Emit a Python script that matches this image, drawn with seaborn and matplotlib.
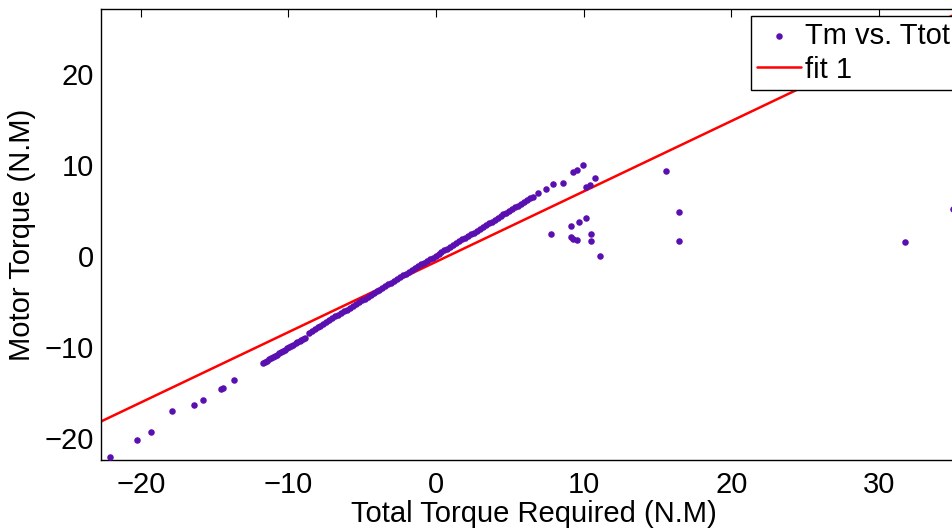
import numpy as np
import pandas as pd
import matplotlib
matplotlib.use("Agg")
import matplotlib.pyplot as plt
import seaborn as sns

# ---- data ----
# dense strip (lower part)
strip_a_x = [-11.72, -11.58, -11.45, -11.30, -11.17, -11.02, -10.90, -10.75, -10.62, -10.48, -10.35,
             -10.20, -10.07, -9.93, -9.80, -9.66, -9.52, -9.40, -9.25, -9.12, -8.98, -8.87]
strip_a_y = [-11.75, -11.62, -11.50, -11.36, -11.24, -11.10, -10.98, -10.83, -10.70, -10.55, -10.42,
             -10.28, -10.15, -10.02, -9.88, -9.75, -9.60, -9.48, -9.34, -9.20, -9.07, -8.97]
# dense strip (main part)
strip_b_x = [-8.63, -8.43, -8.23, -8.03, -7.83, -7.63, -7.43, -7.23, -7.03, -6.83, -6.63, -6.43, -6.23,
             -6.03, -5.83, -5.63, -5.43, -5.23, -5.03, -4.83, -4.63, -4.43, -4.23, -4.03, -3.83, -3.63,
             -3.43, -3.23, -3.03, -2.83, -2.63, -2.43, -2.23, -2.03, -1.83, -1.63, -1.43, -1.23, -1.03,
             -0.83, -0.63, -0.43, -0.23, -0.03, 0.17, 0.37, 0.57, 0.77, 0.97, 1.17, 1.37, 1.57, 1.77,
             1.97, 2.17, 2.37, 2.57, 2.77, 2.97, 3.17, 3.37, 3.57, 3.77, 3.97, 4.17, 4.37, 4.57, 4.77,
             4.97, 5.17, 5.37, 5.57, 5.77, 5.97, 6.17, 6.37, 6.55, 6.93]
strip_b_y = [-8.45, -8.25, -8.05, -7.85, -7.65, -7.45, -7.25, -7.05, -6.85, -6.65, -6.45, -6.29, -6.09,
             -5.89, -5.69, -5.49, -5.29, -5.09, -4.89, -4.69, -4.49, -4.29, -4.09, -3.89, -3.69, -3.49,
             -3.33, -3.13, -2.93, -2.73, -2.53, -2.33, -2.13, -1.93, -1.73, -1.53, -1.33, -1.13, -0.93,
             -0.73, -0.53, -0.38, -0.18, 0.02, 0.22, 0.42, 0.62, 0.82, 1.02, 1.22, 1.42, 1.62, 1.82,
             2.02, 2.22, 2.42, 2.57, 2.77, 2.97, 3.17, 3.37, 3.57, 3.77, 3.97, 4.17, 4.37, 4.57, 4.77,
             4.97, 5.14, 5.34, 5.54, 5.74, 5.94, 6.14, 6.34, 6.52, 6.89]
# sparse points, low end
low_x = [-22.10, -20.24, -19.32, -17.87, -16.38, -15.81, -14.59, -14.45, -13.69]
low_y = [-22.12, -20.22, -19.34, -17.00, -16.37, -15.82, -14.65, -14.50, -13.66]
# sparse points, high end
high_x = [7.43, 7.90, 8.58, 9.30, 9.53, 9.98, 10.16, 10.43, 10.79, 15.60, 16.48, 16.48,
          7.79, 9.17, 9.67, 10.14, 9.15, 9.26, 9.57, 10.48, 10.48, 11.13, 31.78, 35.00]
high_y = [7.36, 7.88, 8.05, 9.27, 9.45, 9.97, 7.55, 7.84, 8.54, 9.34, 4.87, 1.65,
          2.42, 3.33, 3.74, 4.21, 2.12, 1.87, 1.79, 2.38, 1.68, 0.03, 1.50, 5.13]

# linear fit "fit 1": Tm = p1 * Ttot + p2
fit_p1 = 0.773
fit_p2 = -0.64

x_limits = (-22.70, 35.91)
y_limits = (-22.42, 27.14)
x_ticks = [-20, -10, 0, 10, 20, 30]
y_ticks = [-20, -10, 0, 10, 20]

t_total = strip_a_x + strip_b_x + low_x + high_x
t_motor = strip_a_y + strip_b_y + low_y + high_y
df = pd.DataFrame({"Ttot": t_total, "Tm": t_motor})

fit_x = np.array(x_limits)
fit_df = pd.DataFrame({"x": fit_x, "y": fit_p1 * fit_x + fit_p2})

# ---- styling ----
FS = 21
sns.set_style("white")
plt.rcParams["font.family"] = ["Liberation Sans", "DejaVu Sans"]
plt.rcParams["font.size"] = FS
plt.rcParams["text.color"] = "black"
plt.rcParams["axes.labelcolor"] = "black"
plt.rcParams["axes.linewidth"] = 1.0

fig = plt.figure(figsize=(9.52, 5.30), dpi=100)
ax = fig.add_axes([101 / 952, 70 / 530, 865 / 952, 451 / 530])

sns.scatterplot(data=df, x="Ttot", y="Tm", ax=ax, color="#5a0fb0", s=22,
                linewidth=0, label="Tm vs. Ttot", zorder=3)
sns.lineplot(data=fit_df, x="x", y="y", ax=ax, color="#ff0000", linewidth=1.8,
             label="fit 1", zorder=2)

ax.set_xlim(*x_limits)
ax.set_ylim(*y_limits)
ax.set_xticks(x_ticks)
ax.set_yticks(y_ticks)
ax.set_xticklabels([f"\u2212{abs(v)}" if v < 0 else str(v) for v in x_ticks])
ax.set_yticklabels([f"\u2212{abs(v)}" if v < 0 else str(v) for v in y_ticks])
ax.tick_params(direction="in", length=6, width=0.8, top=True, right=True,
               labelsize=FS, colors="black")
ax.tick_params(axis="x", pad=8)
ax.tick_params(axis="y", pad=5)
for s in ax.spines.values():
    s.set_visible(True)
    s.set_color("black")
    s.set_linewidth(1.0)

ax.set_xlabel("Total Torque Required (N.M)", fontsize=FS, labelpad=1)
ax.set_ylabel("Motor Torque (N.M)", fontsize=FS, labelpad=6)

leg = ax.legend(loc="upper left", bbox_to_anchor=(751 / 952, 1 - 16 / 530),
                bbox_transform=fig.transFigure, frameon=True, fancybox=False,
                edgecolor="black", framealpha=1, borderaxespad=0, borderpad=0.2,
                handlelength=1.5, handletextpad=0.15, labelspacing=0.2, fontsize=FS)
leg.get_frame().set_linewidth(1.0)
for t in leg.get_texts():
    t.set_color("black")

fig.savefig("out.png", dpi=100)
